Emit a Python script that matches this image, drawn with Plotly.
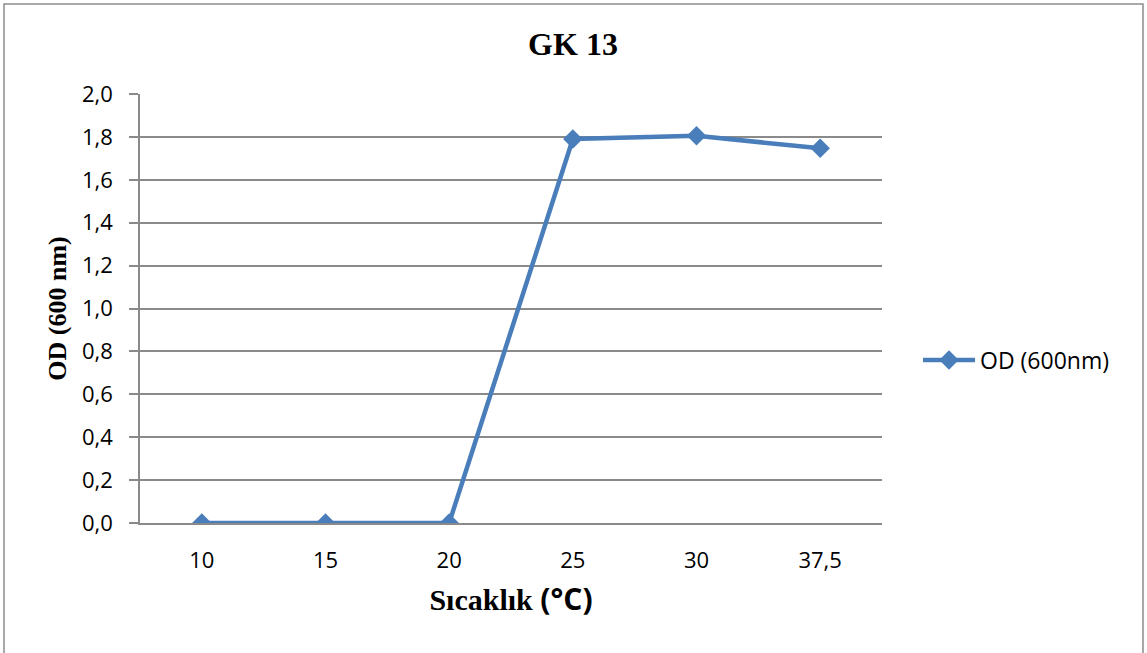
import plotly.graph_objects as go

# Temperature categories (°C) and optical density readings at 600 nm
temperatures = ["10", "15", "20", "25", "30", "37,5"]
od_values = [0.0, 0.0, 0.0, 1.79, 1.805, 1.747]
y_ticks = [0.0, 0.2, 0.4, 0.6, 0.8, 1.0, 1.2, 1.4, 1.6, 1.8, 2.0]

W, H = 1147, 653
L, R, T, B = 140, 265, 94, 130
pw, ph = W - L - R, H - T - B

GRID = "#8a8a8a"
BLUE = "#4a7ebb"
SANS = "Open Sans, Liberation Sans, sans-serif"
SERIF = "Liberation Serif, Times New Roman, serif"

fig = go.Figure()
fig.add_trace(go.Scatter(
    x=temperatures, y=od_values, mode="lines+markers", name="OD (600nm)",
    line=dict(color=BLUE, width=4.5),
    marker=dict(symbol="diamond", size=15, color=BLUE),
))


def px_x(v):
    return (v - L) / pw


def px_y(v):
    return (H - B - v) / ph


fig.update_layout(
    width=W, height=H,
    margin=dict(l=L, r=R, t=T, b=B),
    paper_bgcolor="white", plot_bgcolor="white",
    separators=", ",
    showlegend=True,
    title=dict(text="<b>GK 13</b>", x=573 / W, xanchor="center",
               y=1 - 44 / H, yanchor="middle", yref="container",
               font=dict(family=SERIF, size=32, color="black")),
    legend=dict(x=px_x(918), xanchor="left", y=px_y(360), yanchor="middle",
                font=dict(family=SANS, size=23, color="black"),
                bgcolor="rgba(0,0,0,0)", itemwidth=52),
    xaxis=dict(
        type="category", range=[-0.5, 5.5],
        showgrid=False, zeroline=False,
        showline=True, linecolor=GRID, linewidth=1.5,
        ticks="", ticklabelstandoff=17,
        tickfont=dict(family=SANS, size=22, color="black"),
        title=dict(
            text="<b>Sıcaklık <span style='font-family:Open Sans'>(°C)</span></b>",
            standoff=16,
            font=dict(family=SERIF, size=30, color="black")),
    ),
    yaxis=dict(
        range=[0, 2.0], tickvals=y_ticks, tickformat=".1f",
        showgrid=True, gridcolor=GRID, gridwidth=1.5, zeroline=False,
        showline=True, linecolor=GRID, linewidth=1.5,
        ticks="outside", ticklen=9, tickcolor=GRID, tickwidth=1.5,
        ticklabelstandoff=12,
        tickfont=dict(family=SANS, size=22, color="black"),
        title=dict(text="<b>OD (600 nm)</b>", standoff=8,
                   font=dict(family=SERIF, size=26, color="black")),
    ),
    shapes=[dict(type="rect", xref="paper", yref="paper",
                 x0=px_x(4), x1=px_x(1143), y0=px_y(670), y1=px_y(4),
                 line=dict(color="#8c8c8c", width=1.5), layer="below")],
)

fig.write_html("out.html")
